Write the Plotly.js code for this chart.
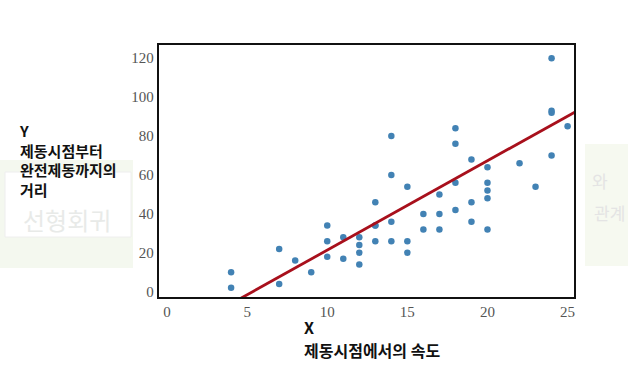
<!DOCTYPE html>
<html>
<head>
<meta charset="utf-8">
<script src="https://cdn.plot.ly/plotly-3.0.1.min.js"></script>
<style>html,body{margin:0;padding:0;background:#fff;}#chart{width:628px;height:392px;}</style>
</head>
<body>
<div id="chart"></div>
<script>
// cars dataset: speed (X) vs stopping distance (Y)
const speed = [4,4,7,7,8,9,10,10,10,11,11,12,12,12,12,13,13,13,13,14,14,14,14,15,15,15,16,16,17,17,17,18,18,18,18,19,19,19,20,20,20,20,20,22,23,24,24,24,24,25];
const dist  = [2,10,4,22,16,10,18,26,34,17,28,14,20,24,28,26,34,34,46,26,36,60,80,20,26,54,32,40,32,40,50,42,56,76,84,36,46,68,32,48,52,56,64,66,54,70,92,93,120,85];
// fitted line parameters
const weight = 4.59;
const bias = -24.5;
const lineX = [0, 26];
const lineY = lineX.map(x => weight * x + bias);
const xTicks = [0, 5, 10, 15, 20, 25];
const yTicks = [0, 20, 40, 60, 80, 100, 120];

const traces = [
  {x: speed, y: dist, mode: 'markers', type: 'scatter',
   marker: {color: '#4282b4', size: 6.5}, hoverinfo: 'none'},
  {x: lineX, y: lineY, mode: 'lines', type: 'scatter',
   line: {color: '#a8101c', width: 2.8}, hoverinfo: 'none'}
];

const axisCommon = {
  showgrid: false, zeroline: false, showline: true, mirror: true,
  linecolor: '#111', linewidth: 2.2, ticks: '',
  tickfont: {family: 'Liberation Serif, DejaVu Serif, serif', size: 15, color: '#555'}
};

const layout = {
  width: 628, height: 392,
  margin: {l: 159, r: 54, t: 45, b: 95},
  paper_bgcolor: '#ffffff', plot_bgcolor: '#ffffff',
  showlegend: false,
  xaxis: Object.assign({}, axisCommon, {range: [-0.5, 25.4], tickvals: xTicks}),
  yaxis: Object.assign({}, axisCommon, {range: [-2.7, 126.8], tickvals: yTicks}),
  shapes: [
    {type: 'rect', xref: 'paper', yref: 'paper', layer: 'below',
     x0: -159/415, x1: -26/415, y0: (297-268)/252, y1: (297-160)/252,
     fillcolor: '#f4f8ef', line: {width: 0}},
    {type: 'rect', xref: 'paper', yref: 'paper', layer: 'below',
     x0: -154/415, x1: -28/415, y0: (297-237)/252, y1: (297-172)/252,
     fillcolor: '#ffffff', line: {color: '#eeeeee', width: 1}},
    {type: 'rect', xref: 'paper', yref: 'paper', layer: 'below',
     x0: (585-159)/415, x1: (628-159)/415, y0: (297-266)/252, y1: (297-144)/252,
     fillcolor: '#f6f9f0', line: {width: 0}}
  ],
  annotations: [
    {xref: 'paper', yref: 'paper', x: -138/415, y: (297-219)/252, xanchor: 'left', yanchor: 'middle',
     text: '선형회귀', showarrow: false,
     font: {family: 'Noto Sans CJK KR', size: 24, color: '#e8eae8'}},
    {xref: 'paper', yref: 'paper', x: (590-159)/415, y: (297-180)/252, xanchor: 'left', yanchor: 'middle',
     text: '와', showarrow: false,
     font: {family: 'Noto Sans CJK KR', size: 17, color: '#e4e4e4'}},
    {xref: 'paper', yref: 'paper', x: (592-159)/415, y: (297-212)/252, xanchor: 'left', yanchor: 'middle',
     text: '관계', showarrow: false,
     font: {family: 'Noto Sans CJK KR', size: 17, color: '#e4e4e4'}},
    {xref: 'paper', yref: 'paper', x: -142/415, y: (297-118)/252, xanchor: 'left', yanchor: 'top',
     align: 'left', showarrow: false,
     text: 'Y<br>제동시점부터<br>완전제동까지의<br>거리',
     font: {family: 'Noto Sans CJK KR', size: 15, color: '#111', weight: 'bold'}},
    {xref: 'paper', yref: 'paper', x: (302-159)/415, y: (297-327)/252, xanchor: 'left', yanchor: 'middle',
     align: 'left', showarrow: false, text: 'X',
     font: {family: 'Noto Sans CJK KR', size: 16, color: '#111', weight: 'bold'}},
    {xref: 'paper', yref: 'paper', x: (302-159)/415, y: (297-350)/252, xanchor: 'left', yanchor: 'middle',
     align: 'left', showarrow: false, text: '제동시점에서의 속도',
     font: {family: 'Noto Sans CJK KR', size: 16, color: '#111', weight: 'bold'}}
  ]
};

Plotly.newPlot('chart', traces, layout, {staticPlot: true, displayModeBar: false});
</script>
</body>
</html>
